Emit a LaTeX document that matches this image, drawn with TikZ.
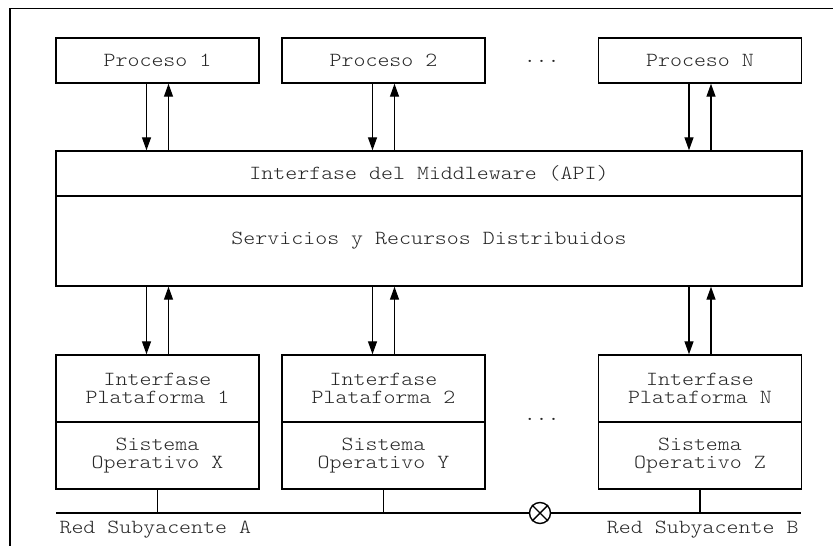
\documentclass[tikz,border=0pt]{standalone}
\usepackage{fontspec}
\setmonofont[FakeStretch=1.14]{Latin Modern Mono Light}
\usetikzlibrary{arrows.meta}
\tikzset{
  lbl/.style={font=\ttfamily\fontsize{20}{17.5}\selectfont, text=black!85},
  box/.style={draw, line width=1.4pt, lbl, align=center, inner sep=0pt,
              minimum width=203pt, minimum height=45pt},
  wide/.style={box, minimum width=746pt},
  half/.style={box, minimum height=67pt},
  arr/.style={line width=1.3pt, -{Triangle[length=13pt,width=9pt]}},
  wire/.style={line width=1.4pt}
}
\begin{document}
\begin{tikzpicture}[x=1pt,y=-1pt]
\useasboundingbox (0,0) rectangle (833,546);
% outer frame
\draw[line width=1.4pt] (10,546) -- (10,8.5) -- (833,8.5);

% processes
\node[box] (p1) at (157.5,60.5) {Proceso 1};
\node[box] (p2) at (383.5,60.5) {Proceso 2};
\node[box] (pn) at (700,60.5) {Proceso N};
\node[lbl, anchor=base] (dtop) at (541.7,62) {...};

% middleware layer
\node[wide] (api) at (429,173.5) {Interfase del Middleware (API)};
\node[wide, minimum height=90pt] (srv) at (429,241) {Servicios y Recursos Distribuidos};

% platforms
\node[half] (i1) at (157.5,388.5) {Interfase\\Plataforma 1};
\node[half] (s1) at (157.5,455.5) {Sistema\\Operativo X};
\node[half] (i2) at (383.5,388.5) {Interfase\\Plataforma 2};
\node[half] (s2) at (383.5,455.5) {Sistema\\Operativo Y};
\node[half] (in) at (700,388.5) {Interfase\\Plataforma N};
\node[half] (sn) at (700,455.5) {Sistema\\Operativo Z};
\node[lbl, anchor=base] (dbot) at (541.7,420) {...};

% arrows between processes and middleware
\foreach \n in {p1,p2,pn}{
  \draw[arr] ([xshift=-11pt]\n.south) -- ([xshift=-11pt]\n.south |- api.north);
  \draw[arr] ([xshift=11pt]\n.south |- api.north) -- ([xshift=11pt]\n.south);
}
% arrows between middleware and platforms
\foreach \n in {i1,i2,in}{
  \draw[arr] ([xshift=-11pt]\n.north |- srv.south) -- ([xshift=-11pt]\n.north);
  \draw[arr] ([xshift=11pt]\n.north) -- ([xshift=11pt]\n.north |- srv.south);
}

% underlying network
\coordinate (netL) at (56,513);
\coordinate (netR) at (801,513);
\node[draw, circle, line width=1.4pt, minimum size=21pt, inner sep=0pt] (gw) at (540,513) {};
\draw[wire] (gw.north west) -- (gw.south east);
\draw[wire] (gw.north east) -- (gw.south west);
\draw[wire] (netL) -- (gw.west);
\draw[wire] (gw.east) -- (netR);
\foreach \n in {s1,s2,sn}{
  \draw[wire] (\n.south) -- (\n.south |- netL);
}
\node[lbl, anchor=base west] (ra) at (56,533) {Red Subyacente A};
\node[lbl, anchor=base east] (rb) at (802,533) {Red Subyacente B};
\end{tikzpicture}
\end{document}
